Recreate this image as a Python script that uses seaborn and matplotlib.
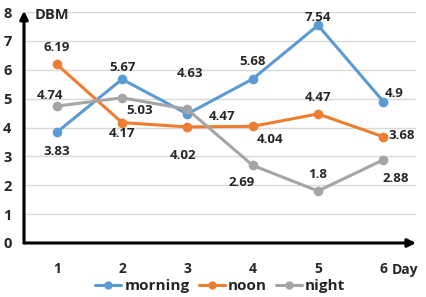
import matplotlib
matplotlib.use("Agg")
import matplotlib.pyplot as plt
import seaborn as sns
import pandas as pd

days = [1, 2, 3, 4, 5, 6]
morning = [3.83, 5.67, 4.47, 5.68, 7.54, 4.9]
noon = [6.19, 4.17, 4.02, 4.04, 4.47, 3.68]
night = [4.74, 5.03, 4.63, 2.69, 1.8, 2.88]
series_names = ["morning", "noon", "night"]
colors = ["#5B9BD5", "#ED7D31", "#A5A5A5"]

# label offsets in pixels (dx, dy)
offsets = {
    "morning": [(0, -19), (0, 12), (35, -3), (0, 17), (0, 8), (11, 8)],
    "noon": [(0, 17), (0, -11), (-4, -29), (17, -13), (0, 16), (18, 1)],
    "night": [(-7, 11), (18, -13), (3, 36), (-11, -17), (0, 17), (12, -19)],
}

df = pd.DataFrame({
    "Day": days * 3,
    "DBM": morning + noon + night,
    "series": [s for s in series_names for _ in days],
})

sns.set_style("white")
plt.rcParams["font.family"] = ["Open Sans", "DejaVu Sans"]
plt.rcParams["font.weight"] = "bold"

fig = plt.figure(figsize=(4.26, 2.97), dpi=100)
ax = fig.add_axes([24 / 426, 1 - 243 / 297, (416 - 24) / 426, (243 - 12) / 297])

sns.lineplot(data=df, x="Day", y="DBM", hue="series", palette=colors,
             marker="o", markersize=7, markeredgewidth=0, linewidth=2.2,
             ax=ax, legend=False)

for name, vals in zip(series_names, [morning, noon, night]):
    for d, v, (dx, dy) in zip(days, vals, offsets[name]):
        ax.annotate(f"{v:g}", (d, v), xytext=(dx, dy), textcoords="offset pixels",
                    ha="center", va="center", fontsize=9.5, fontweight="bold")

ax.set_xlim(0.5, 6.5)
ax.set_ylim(0, 8)
ax.set_yticks(range(0, 9))
ax.set_xticks(days)
ax.set_xticks([0.5 + i for i in range(7)], minor=True)
ax.tick_params(axis="x", which="major", length=0, pad=14, labelsize=10)
ax.tick_params(axis="x", which="minor", length=3, width=1.5, direction="out", color="black")
ax.tick_params(axis="y", length=0, pad=9, labelsize=10.5)
for lab in ax.get_xticklabels() + ax.get_yticklabels():
    lab.set_fontweight("bold")
ax.grid(axis="y", color="#D9D9D9", linewidth=1)
ax.set_axisbelow(True)
ax.set_xlabel("")
ax.set_ylabel("")
for sp in ax.spines.values():
    sp.set_visible(False)

# axis arrows
ax.annotate("", xy=(0, 1.005), xytext=(0, 0), xycoords="axes fraction",
            arrowprops=dict(arrowstyle="-|>", color="black", lw=2.2, mutation_scale=12,
                            shrinkA=0, shrinkB=0), annotation_clip=False)
ax.annotate("", xy=(1.0, 0), xytext=(0, 0), xycoords="axes fraction",
            arrowprops=dict(arrowstyle="-|>", color="black", lw=2.2, mutation_scale=12,
                            shrinkA=0, shrinkB=0), annotation_clip=False)

fig.text(35 / 426, 1 - 15 / 297, "DBM", ha="left", va="center", fontsize=10.5, fontweight="bold")
fig.text(405 / 426, 1 - 270 / 297, "Day", ha="center", va="center", fontsize=10, fontweight="bold")

handles = [plt.Line2D([], [], color=c, marker="o", markersize=6, markeredgewidth=0, linewidth=2.2)
           for c in colors]
fig.legend(handles, series_names, loc="center", bbox_to_anchor=(0.517, 1 - 286 / 297),
           ncol=3, frameon=False, prop={"size": 11, "weight": "bold"},
           handlelength=1.7, handletextpad=0.2, columnspacing=0.6, borderpad=0)

fig.savefig("out.png", dpi=100)
